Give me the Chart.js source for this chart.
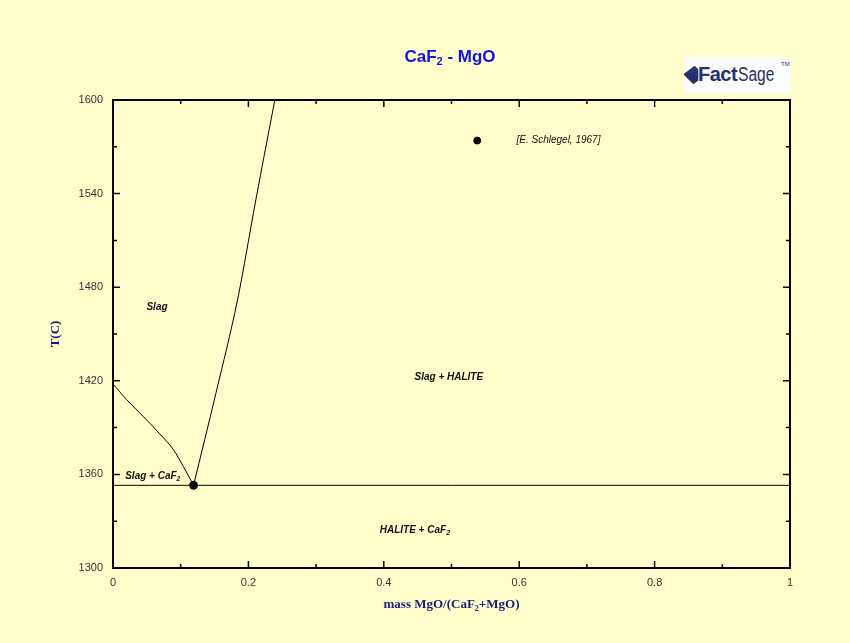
<!DOCTYPE html>
<html>
<head>
<meta charset="utf-8">
<title>CaF2 - MgO</title>
<script src="https://cdn.jsdelivr.net/npm/chart.js@4.4.1/dist/chart.umd.min.js"></script>
<style>
  body { margin: 0; background: #ffffcc; }
  #wrap { position: relative; width: 850px; height: 643px; }
  #logo {
    position: absolute; left: 684px; top: 57px; width: 107px; height: 36px;
    background: #fdfdfd; overflow: hidden; font-family: "Liberation Sans", Arial, sans-serif;
    color: #27306a;
  }
  #logo .mark {
    position: absolute; left: 3px; top: 11px; width: 14px; height: 14px;
    background: #27306a; transform: rotate(45deg) skewX(-8deg);
  }
  #logo .txt { position: absolute; left: 14px; top: 6px; font-size: 20px; white-space: nowrap; }
  #logo .fact { font-weight: bold; letter-spacing: -0.5px; }
  #logo .fact b { text-shadow: -1px 0 #fff, 0 1px #fff; }
  #logo .sage { display: inline-block; transform: scaleX(0.78); transform-origin: left; margin-left: 1px; }
  #logo .tm { position: absolute; left: 97px; top: 4px; font-size: 6px; }
</style>
</head>
<body>
<div id="wrap">
  <canvas id="diagrama" width="850" height="643"></canvas>
  <div id="logo"><div class="mark"></div><div class="txt"><span class="fact"><b>F</b>act</span><span class="sage">Sage</span></div><span class="tm">TM</span></div>
</div>
<script>

// liquidus del lado CaF2 (de 1418 C hasta el eutéctico)
const liqCaF2X = [0, 0.020, 0.045, 0.069, 0.089, 0.104, 0.119];
const liqCaF2T = [1418, 1408, 1397, 1386, 1376, 1365, 1353];

// liquidus del lado MgO (HALITE)
const liqMgOX = [0.119, 0.152, 0.184, 0.211, 0.239];
const liqMgOT = [1353, 1412, 1472, 1536, 1600];

// línea eutéctica
const eutecticaX = [0, 1];
const eutecticaT = [1353, 1353];

// dato experimental [E. Schlegel, 1967]
const schlegelX = [0.119];
const schlegelT = [1353];

// símbolo de la leyenda
const leyendaX = [0.538];
const leyendaT = [1574];

// ejes
const xTicks = [0, 0.2, 0.4, 0.6, 0.8, 1];
const xTickLabels = ['0', '0.2', '0.4', '0.6', '0.8', '1'];
const xMinor = [0.1, 0.3, 0.5, 0.7, 0.9];
const yTicks = [1300, 1360, 1420, 1480, 1540, 1600];
const yTickLabels = ['1300', '1360', '1420', '1480', '1540', '1600'];
const yMinor = [1330, 1390, 1450, 1510, 1570];

// etiquetas de las regiones: [texto, subíndice, x, T, alineación, estilo]
const etiquetas = [
    ['Slag', '', 0.065, 1467, 'center', 'bold italic'],
    ['Slag + HALITE', '', 0.496, 1422, 'center', 'bold italic'],
    ['Slag + CaF', '2', 0.018, 1359, 'left', 'bold italic'],
    ['HALITE + CaF', '2', 0.394, 1324, 'left', 'bold italic'],
    ['[E. Schlegel, 1967]', '', 0.596, 1574, 'left', 'italic']
];

const puntos = (xs, ys) => xs.map((x, i) => ({ x: x, y: ys[i] }));

// texto con subíndice, dibujado por piezas
function textoRico(ctx, partes, x, y, align, size, estilo, familia, color) {
    const fPrin = estilo + ' ' + size + 'px ' + familia;
    const fSub = estilo + ' ' + Math.round(size * 0.65) + 'px ' + familia;
    let ancho = 0;
    partes.forEach(p => {
        ctx.font = p[1] ? fSub : fPrin;
        ancho += ctx.measureText(p[0]).width;
    });
    let cx = align === 'center' ? x - ancho / 2 : x;
    ctx.fillStyle = color;
    ctx.textBaseline = 'middle';
    ctx.textAlign = 'left';
    partes.forEach(p => {
        ctx.font = p[1] ? fSub : fPrin;
        ctx.fillText(p[0], cx, p[1] ? y + size * 0.3 : y);
        cx += ctx.measureText(p[0]).width;
    });
}

const marcoYTextos = {
    id: 'marcoYTextos',
    afterDatasetsDraw(chart) {
        const ctx = chart.ctx;
        const a = chart.chartArea;
        const sx = chart.scales.x, sy = chart.scales.y;
        ctx.save();
        ctx.strokeStyle = '#000';
        ctx.lineWidth = 1.5;
        // marcas hacia dentro en los cuatro lados
        const marcaX = (v, largo) => {
            const px = sx.getPixelForValue(v);
            ctx.beginPath();
            ctx.moveTo(px, a.bottom); ctx.lineTo(px, a.bottom - largo);
            ctx.moveTo(px, a.top); ctx.lineTo(px, a.top + largo);
            ctx.stroke();
        };
        const marcaY = (v, largo) => {
            const py = sy.getPixelForValue(v);
            ctx.beginPath();
            ctx.moveTo(a.left, py); ctx.lineTo(a.left + largo, py);
            ctx.moveTo(a.right, py); ctx.lineTo(a.right - largo, py);
            ctx.stroke();
        };
        xTicks.forEach(v => marcaX(v, 7));
        xMinor.forEach(v => marcaX(v, 4));
        yTicks.forEach(v => marcaY(v, 7));
        yMinor.forEach(v => marcaY(v, 4));

        // etiquetas de regiones
        etiquetas.forEach(e => {
            const partes = [[e[0], false]];
            if (e[1]) partes.push([e[1], true]);
            textoRico(ctx, partes, sx.getPixelForValue(e[2]), sy.getPixelForValue(e[3]),
                e[4], 10, e[5], '"Liberation Sans", Arial, sans-serif', '#111');
        });

        // título
        textoRico(ctx, [['CaF', false], ['2', true], [' - MgO', false]], 450, 57, 'center', 17,
            'bold', '"Liberation Sans", Arial, sans-serif', '#1010e8');

        // título del eje x
        textoRico(ctx, [['mass MgO/(CaF', false], ['2', true], ['+MgO)', false]],
            (a.left + a.right) / 2, 605, 'center', 13, 'bold', '"Liberation Serif", "Times New Roman", serif', '#1a1a80');

        // título del eje y
        ctx.translate(56, (a.top + a.bottom) / 2);
        ctx.rotate(-Math.PI / 2);
        textoRico(ctx, [['T(C)', false]], 0, 0, 'center', 13, 'bold',
            '"Liberation Serif", "Times New Roman", serif', '#1a1a80');
        ctx.restore();
    }
};

const linea = (datos) => ({
    data: datos,
    showLine: true,
    borderColor: '#000',
    borderWidth: 1,
    pointRadius: 0,
    fill: false
});

const ctxDiagrama = document.getElementById('diagrama').getContext('2d');

new Chart(ctxDiagrama, {
    type: 'scatter',
    data: {
        datasets: [
            Object.assign(linea(puntos(liqCaF2X, liqCaF2T)), { cubicInterpolationMode: 'monotone' }),
            Object.assign(linea(puntos(liqMgOX, liqMgOT)), { cubicInterpolationMode: 'monotone' }),
            linea(puntos(eutecticaX, eutecticaT)),
            {
                data: puntos(schlegelX, schlegelT),
                pointRadius: 4,
                backgroundColor: '#000',
                borderColor: '#000'
            },
            {
                data: puntos(leyendaX, leyendaT),
                pointRadius: 3.5,
                backgroundColor: '#000',
                borderColor: '#000'
            }
        ]
    },
    options: {
        responsive: false,
        animation: false,
        devicePixelRatio: 1,
        layout: { padding: 0 },
        plugins: {
            legend: { display: false },
            tooltip: { enabled: false }
        },
        scales: {
            x: {
                type: 'linear',
                position: 'bottom',
                min: 0, max: 1,
                afterBuildTicks: s => { s.ticks = xTicks.map(v => ({ value: v })); },
                afterFit: s => { s.height = 75; },
                ticks: {
                    callback: (v, i) => xTickLabels[i],
                    color: '#333',
                    font: { family: '"Liberation Sans", Arial, sans-serif', size: 11 },
                    padding: 8,
                    maxRotation: 0
                },
                grid: { display: false, drawTicks: false },
                border: { color: '#000', width: 2 }
            },
            x2: {
                type: 'linear',
                position: 'top',
                min: 0, max: 1,
                afterFit: s => { s.height = 100; },
                ticks: { display: false },
                grid: { display: false, drawTicks: false },
                border: { color: '#000', width: 2 }
            },
            y: {
                type: 'linear',
                position: 'left',
                min: 1300, max: 1600,
                afterBuildTicks: s => { s.ticks = yTicks.map(v => ({ value: v })); },
                afterFit: s => { s.width = 113; },
                ticks: {
                    callback: (v, i) => yTickLabels[i],
                    color: '#333',
                    font: { family: '"Liberation Sans", Arial, sans-serif', size: 11 },
                    padding: 10
                },
                grid: { display: false, drawTicks: false },
                border: { color: '#000', width: 2 }
            },
            y2: {
                type: 'linear',
                position: 'right',
                min: 1300, max: 1600,
                afterFit: s => { s.width = 60; },
                ticks: { display: false },
                grid: { display: false, drawTicks: false },
                border: { color: '#000', width: 2 }
            }
        }
    },
    plugins: [marcoYTextos]
});
</script>
</body>
</html>
